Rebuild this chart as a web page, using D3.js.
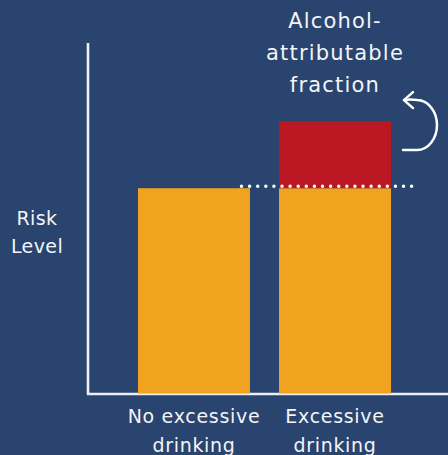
<!DOCTYPE html>
<html>
<head>
<meta charset="utf-8">
<script src="https://cdn.jsdelivr.net/npm/d3@7"></script>
<style>
  html, body { margin: 0; padding: 0; background: #29446f; }
  text { font-family: "DejaVu Sans", sans-serif; fill: #f4f4f6; }
</style>
</head>
<body>
<div id="chart-area"></div>
<script>
var width = 448;
var height = 455;

// data
var categories = ["No excessive drinking", "Excessive drinking"];
var baseRisk = [205, 205];
var attributable = [0, 67];
var yMax = 350;

var svg = d3.select("#chart-area").append("svg")
.attr("width", width)
.attr("height", height)

svg.append("rect")
.attr("width", width)
.attr("height", height)
.attr("fill", "#29446f")

var x = d3.scaleBand()
.domain(categories)
.range([138, 391])
.paddingInner(0.206)

var y = d3.scaleLinear()
.domain([0, yMax])
.range([393.5, 43])

// axes
svg.append("line")
.attr("x1", 88).attr("x2", 88)
.attr("y1", y(yMax)).attr("y2", y(0) + 1)
.attr("stroke", "#eeeef2")
.attr("stroke-width", 2.6)

svg.append("line")
.attr("x1", 87).attr("x2", width)
.attr("y1", y(0) + 0.5).attr("y2", y(0) + 0.5)
.attr("stroke", "#eeeef2")
.attr("stroke-width", 2.4)

// base bars
svg.selectAll(".base")
.data(categories)
.enter().append("rect")
.attr("class", "base")
.attr("x", d => x(d))
.attr("width", x.bandwidth())
.attr("y", (d, i) => y(baseRisk[i]))
.attr("height", (d, i) => y(0) - y(baseRisk[i]))
.attr("fill", "#f0a31e")

// attributable fraction
svg.selectAll(".extra")
.data(categories)
.enter().append("rect")
.attr("class", "extra")
.attr("x", d => x(d))
.attr("width", x.bandwidth())
.attr("y", (d, i) => y(baseRisk[i] + attributable[i]))
.attr("height", (d, i) => y(baseRisk[i]) - y(baseRisk[i] + attributable[i]))
.attr("fill", "#bb1824")

// dotted reference line
var refY = y(baseRisk[0]) - 2
svg.append("line")
.attr("x1", x(categories[0]) + x.bandwidth() - 8.5)
.attr("x2", x(categories[1]) + x.bandwidth() + 24)
.attr("y1", refY).attr("y2", refY)
.attr("stroke", "#ffffff")
.attr("stroke-width", 3.4)
.attr("stroke-linecap", "round")
.attr("stroke-dasharray", "0.1 8")

// curved arrow next to red segment
var ax = x(categories[1]) + x.bandwidth()
var ay = y(baseRisk[1] + attributable[1])
svg.append("path")
.attr("d", "M" + (ax + 12) + "," + (ay + 29) + " H" + (ax + 26)
  + " A20,25 0 0 0 " + (ax + 26) + "," + (ay - 21)
  + " Q" + (ax + 19) + "," + (ay - 22) + " " + (ax + 13) + "," + (ay - 21))
.attr("fill", "none")
.attr("stroke", "#ffffff")
.attr("stroke-width", 2.5)
.attr("stroke-linecap", "round")

svg.append("path")
.attr("d", "M" + (ax + 22) + "," + (ay - 29) + " L" + (ax + 13) + "," + (ay - 21)
  + " L" + (ax + 22) + "," + (ay - 13))
.attr("fill", "none")
.attr("stroke", "#ffffff")
.attr("stroke-width", 2.5)
.attr("stroke-linecap", "round")
.attr("stroke-linejoin", "round")

// title
var titleLines = ["Alcohol-", "attributable", "fraction"]
var title = svg.append("text")
.attr("x", x(categories[1]) + x.bandwidth() / 2)
.attr("y", 28)
.attr("text-anchor", "middle")
.attr("font-size", "21px")
.attr("letter-spacing", "1.2px")
title.selectAll("tspan")
.data(titleLines)
.enter().append("tspan")
.attr("x", x(categories[1]) + x.bandwidth() / 2)
.attr("dy", (d, i) => i == 0 ? 0 : 32)
.text(d => d)

// y label
var yLabel = svg.append("text")
.attr("x", 37)
.attr("y", 225)
.attr("text-anchor", "middle")
.attr("font-size", "19px")
.attr("letter-spacing", "0.4px")
yLabel.selectAll("tspan")
.data(["Risk", "Level"])
.enter().append("tspan")
.attr("x", 37)
.attr("dy", (d, i) => i == 0 ? 0 : 28)
.text(d => d)

// x labels
var xLabels = [["No excessive", "drinking"], ["Excessive", "drinking"]]
categories.forEach((c, i) => {
  var t = svg.append("text")
  .attr("x", x(c) + x.bandwidth() / 2)
  .attr("y", 423)
  .attr("text-anchor", "middle")
  .attr("font-size", "19px")
  .attr("letter-spacing", "0.7px")
  t.selectAll("tspan")
  .data(xLabels[i])
  .enter().append("tspan")
  .attr("x", x(c) + x.bandwidth() / 2)
  .attr("dy", (d, j) => j == 0 ? 0 : 29)
  .text(d => d)
})
</script>
</body>
</html>
